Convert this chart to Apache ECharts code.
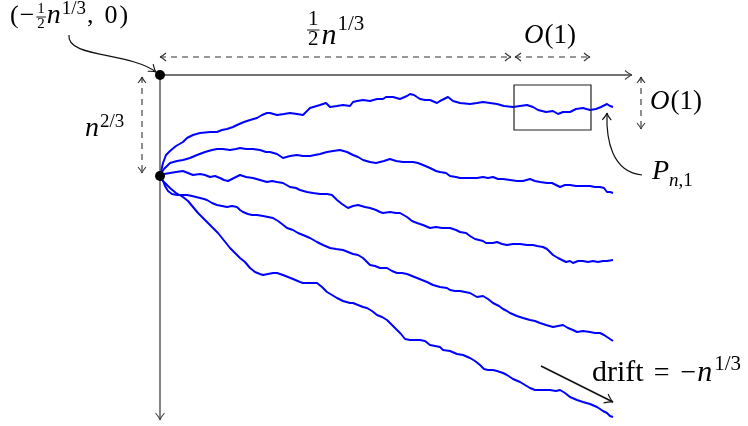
<!DOCTYPE html>
<html>
<head>
<meta charset="utf-8">
<script src="https://cdn.jsdelivr.net/npm/echarts@6/dist/echarts.min.js"></script>
<style>
html,body{margin:0;padding:0;background:#fff;}
#main{width:748px;height:426px;}
</style>
</head>
<body>
<div id="main"></div>
<script>
// 五条随机游走路径  [横向位置, 向下深度]  (原点在左上角点)
var path1=[[0,101],[3,88],[6,80],[10,76],[16,71],[23,67],[27,63],[33,60],[40,58],[50,57],[57,57],[62,55],[67,54],[73,52],[77,50],[84,47],[90,45],[97,43],[102,40],[107,38],[110,38],[117,40],[124,39],[130,38],[137,39],[143,40],[150,33],[160,30],[166,28],[170,32],[177,31],[183,30],[190,31],[193,27],[197,26],[203,25],[210,26],[217,24],[223,24],[226,22],[233,22],[240,24],[247,21],[250,19],[254,20],[260,24],[265,25],[270,25],[277,28],[280,26],[288,22],[293,26],[300,28],[310,29],[317,28],[323,27],[330,28],[337,29],[344,31],[353,32],[360,31],[367,30],[373,32],[378,35],[386,37],[393,36],[398,39],[403,37],[410,37],[416,34],[423,33],[430,35],[436,34],[441,32],[447,29],[450,31],[453,32]];
var path2=[[0,100],[4,94],[10,88],[17,86],[23,85],[30,83],[37,80],[45,77],[52,75],[57,74],[63,74],[70,75],[76,74],[80,73],[86,74],[93,74],[100,75],[106,77],[110,77],[117,79],[123,83],[130,81],[137,80],[143,81],[150,81],[155,80],[160,79],[167,77],[173,76],[180,75],[187,77],[193,80],[198,82],[203,85],[210,87],[216,88],[220,87],[224,86],[230,84],[236,86],[243,87],[248,87],[253,87],[258,88],[263,90],[270,93],[276,96],[280,97],[286,98],[290,101],[296,102],[300,103],[305,103],[310,103],[317,103],[323,102],[328,103],[333,102],[338,104],[343,104],[350,105],[357,106],[363,106],[370,104],[375,106],[380,107],[387,108],[392,108],[400,112],[405,110],[410,110],[416,111],[423,111],[430,111],[435,112],[440,112],[444,113],[447,117],[450,117],[453,118]];
var path3=[[0,100],[4,99],[10,98],[16,97],[23,96],[28,98],[33,100],[40,99],[45,100],[50,102],[55,101],[60,103],[64,105],[68,106],[74,103],[80,100],[86,102],[93,103],[100,105],[107,107],[112,106],[117,107],[123,108],[130,112],[136,113],[140,115],[147,117],[153,118],[160,119],[167,119],[172,120],[177,125],[182,129],[188,133],[193,131],[198,130],[205,132],[210,133],[216,135],[220,137],[223,138],[230,137],[236,138],[240,138],[247,142],[252,146],[257,148],[263,150],[270,153],[276,152],[282,153],[290,153],[296,155],[300,157],[306,158],[310,161],[315,164],[323,166],[326,168],[333,168],[337,167],[342,169],[347,170],[353,169],[360,169],[367,170],[373,170],[377,171],[383,172],[387,174],[393,180],[398,183],[402,185],[406,187],[410,186],[413,188],[418,186],[423,186],[428,187],[433,186],[438,187],[443,186],[447,186],[453,185]];
var path4=[[0,101],[3,106],[5,111],[8,116],[12,119],[17,120],[22,120],[27,120],[32,121],[36,122],[40,123],[44,124],[47,125],[52,128],[57,130],[62,131],[67,132],[72,131],[77,132],[80,135],[83,137],[88,139],[92,140],[97,140],[103,141],[108,142],[113,143],[118,146],[122,149],[127,153],[133,155],[138,158],[143,160],[150,163],[157,167],[163,170],[170,173],[176,174],[183,175],[188,177],[193,179],[198,180],[203,183],[207,187],[210,190],[215,191],[220,193],[227,193],[232,196],[237,198],[242,198],[247,199],[252,201],[257,203],[262,205],[267,207],[273,210],[280,212],[287,213],[290,215],[295,216],[300,216],[305,217],[310,218],[317,222],[323,221],[328,224],[333,228],[339,231],[343,234],[347,236],[350,238],[357,241],[363,243],[370,245],[375,246],[380,248],[386,250],[393,252],[398,251],[403,250],[408,253],[413,255],[417,257],[423,256],[430,257],[435,258],[440,258],[444,260],[447,262],[450,264],[453,266]];
var path5=[[0,102],[4,107],[10,113],[16,118],[23,122],[28,126],[33,132],[38,138],[43,143],[48,148],[53,153],[58,158],[62,163],[66,168],[70,173],[75,178],[80,183],[85,187],[90,193],[95,197],[100,199],[103,200],[108,199],[113,198],[117,198],[123,200],[128,202],[133,204],[140,207],[143,208],[150,208],[157,208],[162,212],[167,217],[172,220],[177,223],[183,226],[190,228],[193,228],[198,230],[203,232],[207,233],[212,236],[217,240],[222,242],[227,245],[232,250],[237,255],[241,259],[245,264],[250,265],[255,265],[260,265],[265,266],[270,270],[275,271],[280,272],[283,275],[290,276],[297,279],[303,280],[310,283],[315,286],[320,290],[324,294],[328,295],[333,295],[337,296],[343,298],[347,300],[353,304],[360,307],[365,310],[370,313],[375,315],[383,315],[390,315],[396,316],[400,315],[405,318],[410,322],[417,325],[423,327],[430,329],[437,332],[443,336],[447,338],[450,341],[453,342]];

var chart=echarts.init(document.getElementById('main'));
var paths=[path1,path2,path3,path4,path5];

var option={
	animation:false,
	grid:{left:0,right:0,top:0,bottom:0},
	xAxis:{type:'value',min:-160,max:588,show:false},
	yAxis:{type:'value',min:-75,max:351,inverse:true,show:false},
	series:paths.map(function(p){
		return {
			type:'line',
			data:p,
			symbol:'none',
			silent:true,
			z:3,
			lineStyle:{color:'#0000ff',width:2}
		};
	})
};
chart.setOption(option);

// ---------- 标注 ----------
function P(x,y){return chart.convertToPixel({gridIndex:0},[x,y]);}
var g=[];
var INK='#222';

function line(pts,color,w,dash){
	g.push({type:'polyline',z:10,silent:true,
		shape:{points:pts.map(function(q){return P(q[0],q[1]);})},
		style:{stroke:color,lineWidth:w,lineDash:dash||null,fill:null}});
}
// 开口箭头 tip 处, 方向从 from 指向 tip
function head(tip,from,color,L,W){
	var a=P(tip[0],tip[1]),b=P(from[0],from[1]);
	var ang=Math.atan2(a[1]-b[1],a[0]-b[0]);
	L=L||6;W=W||4;
	var c=Math.cos(ang),s=Math.sin(ang);
	var p1=[a[0]-L*c+W*s,a[1]-L*s-W*c];
	var p2=[a[0]-L*c-W*s,a[1]-L*s+W*c];
	g.push({type:'bezierCurve',z:11,silent:true,shape:{x1:p1[0],y1:p1[1],x2:a[0],y2:a[1],cpx1:a[0]-L*0.35*c+W*0.15*s,cpy1:a[1]-L*0.35*s-W*0.15*c},style:{stroke:color,lineWidth:1.1,fill:null}});
	g.push({type:'bezierCurve',z:11,silent:true,shape:{x1:p2[0],y1:p2[1],x2:a[0],y2:a[1],cpx1:a[0]-L*0.35*c-W*0.15*s,cpy1:a[1]-L*0.35*s+W*0.15*c},style:{stroke:color,lineWidth:1.1,fill:null}});
}
function dashArrow(a,b){
	line([a,b],'#333',1.1,[6,5]);
	head(a,b,'#333');
	head(b,a,'#333');
}
function curve(p0,c1,c2,p3,color){
	var a=P(p0[0],p0[1]),b=P(c1[0],c1[1]),c=P(c2[0],c2[1]),d=P(p3[0],p3[1]);
	g.push({type:'bezierCurve',z:10,silent:true,
		shape:{x1:a[0],y1:a[1],cpx1:b[0],cpy1:b[1],cpx2:c[0],cpy2:c[1],x2:d[0],y2:d[1]},
		style:{stroke:color,lineWidth:1.2,fill:null}});
	head(p3,c2,color,7,4.5);
}

// 坐标轴
line([[0,0],[472,0]],'#444',1.3);
head([472,0],[0,0],'#444',7,4.5);
line([[0,0],[0,345]],'#444',1.3);
head([0,345],[0,0],'#444',7,4.5);

// 虚线尺寸
dashArrow([0,-18],[351,-18]);
dashArrow([355,-18],[430,-18]);
dashArrow([-18,2],[-18,98]);
dashArrow([481,2],[481,54]);

// 方框
var r0=P(354,10),r1=P(431,55);
g.push({type:'rect',z:10,silent:true,shape:{x:r0[0],y:r0[1],width:r1[0]-r0[0],height:r1[1]-r0[1]},style:{stroke:INK,lineWidth:1.2,fill:null}});

// 曲线箭头
curve([-91,-40],[-94,-17],[-30,-23],[-4,-3],'#111');
curve([482,100],[452,97],[446,65],[447,38],'#111');
// drift 箭头
line([[381,291],[453,327]],'#111',1.6);
head([453,327],[381,291],'#111',8,5);

// 点
[[0,0],[0,101]].forEach(function(q){
	var c=P(q[0],q[1]);
	g.push({type:'circle',z:12,silent:true,shape:{cx:c[0],cy:c[1],r:5},style:{fill:'#000'}});
});

// ---------- 数学文字 ----------
var FAM='"Liberation Serif", "DejaVu Serif", serif';
var ctx=document.createElement('canvas').getContext('2d');
function fnt(sz,it){return (it?'italic ':'')+sz+'px '+FAM;}
function tw(s,sz,it){ctx.font=fnt(sz,it);return ctx.measureText(s).width;}
function put(s,x,base,sz,it){
	g.push({type:'text',z:13,silent:true,x:x,y:base-0.34*sz,
		style:{text:s,font:fnt(sz,it),fill:'#000',align:'left',verticalAlign:'middle'}});
}
// items: {s,sz,it,dy,k} 或 {frac:[a,b],sz,nd,dd,bd}
function mathText(anchor,items){
	var o=P(anchor[0],anchor[1]);
	var x=o[0],base=o[1];
	items.forEach(function(m){
		x+=m.k||0;
		if(m.frac){
			var w=Math.max(tw(m.frac[0],m.sz),tw(m.frac[1],m.sz))+2;
			put(m.frac[0],x+(w-tw(m.frac[0],m.sz))/2,base+m.nd,m.sz);
			put(m.frac[1],x+(w-tw(m.frac[1],m.sz))/2,base+m.dd,m.sz);
			g.push({type:'line',z:13,silent:true,shape:{x1:x,y1:base+m.bd,x2:x+w,y2:base+m.bd},style:{stroke:'#000',lineWidth:0.9}});
			x+=w;
		}else{
			put(m.s,x,base+(m.dy||0),m.sz,m.it);
			x+=tw(m.s,m.sz,m.it);
		}
	});
}

// (−½n^{1/3}, 0)
mathText([-150,-50],[
	{s:'(',sz:26},{s:'−',sz:26,k:1},
	{frac:['1','2'],sz:15,nd:-11,dd:4,bd:-8,k:2},
	{s:'n',sz:28,it:true,k:1},{s:'1/3',sz:19,dy:-10,k:1},
	{s:',',sz:26,k:1},{s:'0',sz:26,k:11},{s:')',sz:26,k:2}
]);
// ½n^{1/3}
mathText([147,-29],[
	{frac:['1','2'],sz:21,nd:-19,dd:1,bd:-16},
	{s:'n',sz:30,it:true,k:2},{s:'1/3',sz:21,dy:-14,k:1}
]);
// O(1) 上
mathText([364,-30],[{s:'O',sz:27,it:true},{s:'(1)',sz:27,k:1}]);
// O(1) 右
mathText([490,36],[{s:'O',sz:27,it:true},{s:'(1)',sz:27,k:1}]);
// n^{2/3}
mathText([-75,63],[{s:'n',sz:28,it:true},{s:'2/3',sz:19,dy:-10,k:1}]);
// P_{n,1}
mathText([492,106],[{s:'P',sz:28,it:true},{s:'n',sz:19,it:true,dy:6,k:0},{s:',1',sz:19,dy:6}]);
// drift = −n^{1/3}
mathText([432,308],[
	{s:'drift',sz:30},{s:'=',sz:28,k:10},{s:'−',sz:28,k:11},
	{s:'n',sz:30,it:true,k:1},{s:'1/3',sz:21,dy:-11,k:2}
]);

chart.setOption({graphic:{elements:g}});
</script>
</body>
</html>
